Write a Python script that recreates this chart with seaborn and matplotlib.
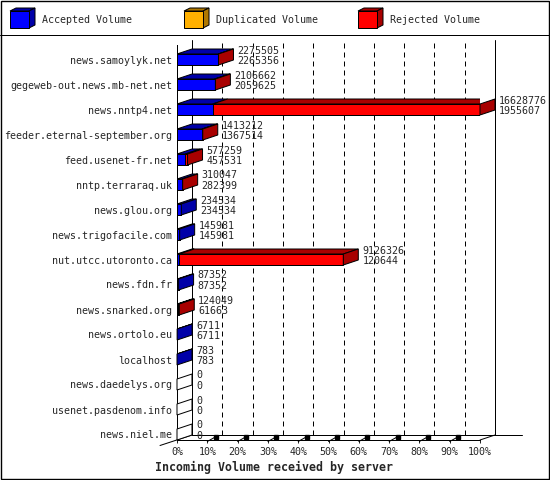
import numpy as np
import pandas as pd
import matplotlib
matplotlib.use('Agg')
import matplotlib.pyplot as plt
from matplotlib.patches import Polygon, Rectangle
import seaborn as sns

# --- data ---
servers = ['news.samoylyk.net', 'gegeweb-out.news.mb-net.net', 'news.nntp4.net',
           'feeder.eternal-september.org', 'feed.usenet-fr.net', 'nntp.terraraq.uk',
           'news.glou.org', 'news.trigofacile.com', 'nut.utcc.utoronto.ca',
           'news.fdn.fr', 'news.snarked.org', 'news.ortolo.eu', 'localhost',
           'news.daedelys.org', 'usenet.pasdenom.info', 'news.niel.me']
total_volume = [2275505, 2106662, 16628776, 1413212, 577259, 310047, 234534, 145981,
                9126326, 87352, 124049, 6711, 783, 0, 0, 0]
accepted_volume = [2265356, 2059625, 1955607, 1367514, 457531, 282399, 234534, 145981,
                   120644, 87352, 61663, 6711, 783, 0, 0, 0]
duplicated_volume = [0] * len(servers)
rejected_volume = [t - a - d for t, a, d in zip(total_volume, accepted_volume, duplicated_volume)]

series_names = ['Accepted Volume', 'Duplicated Volume', 'Rejected Volume']
front_colors = ['#0000ff', '#ffb000', '#ff0000']
dark_colors = ['#0000a8', '#b07800', '#a80000']
pct_ticks = list(range(0, 101, 10))

df = pd.DataFrame({'server': servers,
                   'acc': accepted_volume,
                   'dup': duplicated_volume,
                   'rej': rejected_volume})
df['end_acc'] = df['acc']
df['end_dup'] = df['acc'] + df['dup']
df['end_rej'] = df['end_dup'] + df['rej']

sns.set_style('white')
plt.rcParams['font.family'] = ['DejaVu Sans Mono']
plt.rcParams['font.size'] = 7.2

W, H = 550, 480
fig = plt.figure(figsize=(5.5, 4.8), dpi=100)

# overlay in pixel coords for frame + legend
bg = fig.add_axes([0, 0, 1, 1], zorder=0)
bg.set_xlim(0, W)
bg.set_ylim(H, 0)
bg.axis('off')

# front plane of the 3d box: x 177..480, y 45..440 (pixels)
fx0, fx1, fy0, fy1 = 177, 480, 45, 440
ax = fig.add_axes([fx0 / W, (H - fy1) / H, (fx1 - fx0) / W, (fy1 - fy0) / H], zorder=1)
ax.patch.set_alpha(0)

xmax = max(total_volume)
sx = xmax / (fx1 - fx0)     # data per pixel, x
sy = 1 / 25                 # rows per pixel, y
dx, dy = 15 * sx, 5 * sy    # depth offset
bar_h = 11 * sy
lw = 0.72

# front faces (stacked, drawn back to front)
for col, color in [('end_rej', front_colors[2]), ('end_dup', front_colors[1]), ('end_acc', front_colors[0])]:
    sns.barplot(data=df, x=col, y='server', orient='h', color=color, saturation=1,
                width=bar_h, edgecolor='black', linewidth=lw, errorbar=None, ax=ax, zorder=3)

ylim_top = -(59.5 - fy0) * sy
ylim_bot = (fy1 - 59.5) * sy
ax.set_xlim(0, xmax)
ax.set_ylim(ylim_bot, ylim_top)

# top and side faces
for i, row in df.iterrows():
    yt = i - bar_h / 2
    yb = i + bar_h / 2
    starts = [0, row['end_acc'], row['end_dup']]
    ends = [row['end_acc'], row['end_dup'], row['end_rej']]
    last = None
    for k in range(3):
        if ends[k] > starts[k]:
            ax.add_patch(Polygon([(starts[k], yt), (ends[k], yt), (ends[k] + dx, yt - dy),
                                  (starts[k] + dx, yt - dy)], closed=True,
                                 facecolor=dark_colors[k], edgecolor='black', lw=lw, zorder=4))
            last = k
    xe = row['end_rej']
    ax.add_patch(Polygon([(xe, yt), (xe, yb), (xe + dx, yb - dy), (xe + dx, yt - dy)], closed=True,
                         facecolor=dark_colors[last] if last is not None else 'white',
                         edgecolor='black', lw=lw, zorder=5, clip_on=False))
    ax.text(xe + dx + 4 * sx, i - 9 * sy, str(total_volume[i]), ha='left', va='center',
            fontsize=7.2, zorder=6, clip_on=False)
    ax.text(xe + dx + 4 * sx, i + 1.5 * sy, str(accepted_volume[i]), ha='left', va='center',
            fontsize=7.2, zorder=6, clip_on=False)

# back plane: gridlines and walls
back_top = ylim_top - dy
back_bot = ylim_bot - dy
for p in pct_ticks[1:-1]:
    ax.plot([p / 100 * xmax + dx] * 2, [back_bot, back_top], color='black', lw=lw,
            dashes=(5, 4), zorder=1, clip_on=False)
for xb in [dx, xmax + dx]:
    ax.plot([xb, xb], [back_bot, back_top], color='black', lw=lw, zorder=1, clip_on=False)
ax.plot([dx, xmax + 42 * sx], [back_bot, back_bot], color='black', lw=lw, zorder=1, clip_on=False)
ax.plot([xmax, xmax + dx], [ylim_bot, back_bot], color='black', lw=lw, zorder=1, clip_on=False)
ax.plot([dx, -17 * sx], [back_bot, ylim_bot + 5.5 * sy], color='black', lw=lw, zorder=1, clip_on=False)
# floor tick marks
for p in pct_ticks[1:-1]:
    xp = p / 100 * xmax
    ax.plot([xp, xp + 8 * sx], [ylim_bot + 1.5 * sy, ylim_bot - 3 * sy], color='black', lw=lw,
            zorder=2, clip_on=False)
    ax.plot([xp + 8.5 * sx], [ylim_bot - 3 * sy], marker='s', ms=2.2, color='black', zorder=2,
            clip_on=False)

ax.set_xticks([p / 100 * xmax for p in pct_ticks])
ax.set_xticklabels([f'{p}%' for p in pct_ticks])
ax.tick_params(axis='x', length=3 * 0.72, width=lw, pad=3, labelsize=7.2, bottom=True)
ax.tick_params(axis='y', length=0, pad=3.6, labelsize=7.2)
ax.set_xlabel('')
ax.set_ylabel('')
for s in ['top', 'right']:
    ax.spines[s].set_visible(False)
for s in ['left', 'bottom']:
    ax.spines[s].set_linewidth(lw)
    ax.spines[s].set_color('black')

fig.text(155 / W, 1 - 467 / H, 'Incoming Volume received by server', ha='left', va='center',
         fontsize=8.4, fontweight='bold')

# frame and legend
bg.add_patch(Rectangle((0.7, 0.7), W - 1.8, H - 1.8, fill=False, edgecolor='black', lw=1.0,
                       clip_on=False))
bg.plot([0, W], [35, 35], color='black', lw=lw)
for k, (name, x0) in enumerate(zip(series_names, [10, 184, 358])):
    bg.add_patch(Polygon([(x0, 11), (x0 + 19, 11), (x0 + 25, 8), (x0 + 6, 8)], closed=True,
                         facecolor=dark_colors[k], edgecolor='black', lw=lw))
    bg.add_patch(Polygon([(x0 + 19, 11), (x0 + 19, 28), (x0 + 25, 25), (x0 + 25, 8)], closed=True,
                         facecolor=dark_colors[k], edgecolor='black', lw=lw))
    bg.add_patch(Rectangle((x0, 11), 19, 17, facecolor=front_colors[k], edgecolor='black', lw=lw))
    bg.text(x0 + 32, 20, name, ha='left', va='center', fontsize=7.2)

fig.savefig('out.png', dpi=100)
